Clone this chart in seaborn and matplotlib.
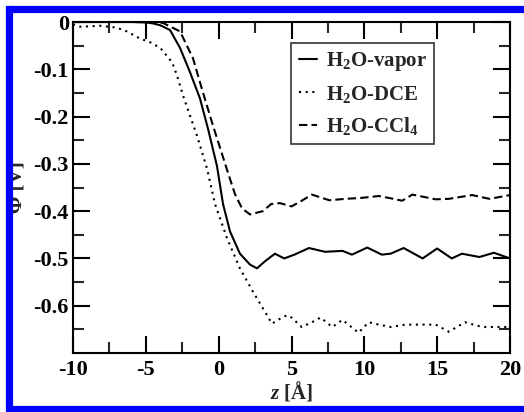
import matplotlib
matplotlib.use("Agg")
import matplotlib.pyplot as plt
import seaborn as sns
import pandas as pd
from matplotlib.lines import Line2D

# ---- data ----
z_vapor = [-10, -8, -6, -5, -4.5, -4, -3.34, -2.65, -1.97, -1.28, -0.73, -0.12, 0.3, 0.78,
           1.46, 2.15, 2.63, 3.18, 3.86, 4.5, 5.2, 6.2, 7.3, 8.5, 9.15, 10.2, 11.2, 11.8,
           12.7, 14.0, 15.0, 16.0, 16.7, 17.9, 18.9, 20]
phi_vapor = [0, 0, 0, -0.001, -0.003, -0.007, -0.017, -0.055, -0.106, -0.162, -0.226, -0.304,
             -0.385, -0.443, -0.49, -0.513, -0.521, -0.506, -0.49, -0.50, -0.492, -0.478,
             -0.486, -0.484, -0.492, -0.477, -0.492, -0.49, -0.478, -0.50, -0.479, -0.50,
             -0.49, -0.497, -0.488, -0.50]

z_dce = [-10, -9.5, -8.1, -7, -6.3, -5.4, -4.7, -4.0, -3.2, -2.86, -2.45, -1.97, -1.49, -0.8,
         -0.25, 0.57, 1.46, 2.35, 3.18, 3.66, 4.07, 4.7, 5.0, 5.7, 6.4, 7.0, 7.8, 8.5, 9.6,
         10.3, 11.0, 11.8, 12.8, 14.0, 14.9, 15.8, 16.9, 18.1, 19.2, 20]
phi_dce = [-0.005, -0.01, -0.008, -0.012, -0.02, -0.035, -0.043, -0.055, -0.085, -0.113,
           -0.155, -0.198, -0.24, -0.31, -0.385, -0.457, -0.521, -0.57, -0.613, -0.638,
           -0.63, -0.62, -0.625, -0.645, -0.635, -0.625, -0.645, -0.63, -0.657, -0.635,
           -0.64, -0.645, -0.64, -0.64, -0.64, -0.655, -0.635, -0.645, -0.645, -0.645]

z_ccl4 = [-10, -8, -6, -4.5, -3.82, -2.65, -1.76, -1.08, -0.39, 0.64, 1.12, 1.6, 2.15, 3.04,
          3.6, 4.2, 5.0, 5.7, 6.4, 7.6, 8.7, 9.8, 11.0, 12.0, 12.6, 13.3, 14.9, 15.8, 17.4,
          18.6, 20]
phi_ccl4 = [0, 0, 0, 0, -0.002, -0.02, -0.077, -0.149, -0.219, -0.319, -0.364, -0.394,
            -0.407, -0.40, -0.385, -0.383, -0.39, -0.378, -0.365, -0.377, -0.374, -0.372,
            -0.368, -0.374, -0.378, -0.365, -0.375, -0.374, -0.366, -0.374, -0.366]

labels = [r"H$_2$O-vapor", r"H$_2$O-DCE", r"H$_2$O-CCl$_4$"]
x_ticks = [-10, -5, 0, 5, 10, 15, 20]
y_ticks = [0, -0.1, -0.2, -0.3, -0.4, -0.5, -0.6]
y_ticklabels = ["0", "-0.1", "-0.2", "-0.3", "-0.4", "-0.5", "-0.6"]

df = pd.concat([
    pd.DataFrame({"z": z_vapor, "phi": phi_vapor, "series": labels[0]}),
    pd.DataFrame({"z": z_dce, "phi": phi_dce, "series": labels[1]}),
    pd.DataFrame({"z": z_ccl4, "phi": phi_ccl4, "series": labels[2]}),
])

# ---- style ----
sns.set_theme(style="white")
plt.rcParams["font.family"] = ["Liberation Serif", "DejaVu Serif"]
plt.rcParams["font.weight"] = "bold"
plt.rcParams["axes.unicode_minus"] = False
plt.rcParams["mathtext.fontset"] = "custom"
plt.rcParams["mathtext.rm"] = "Liberation Serif:bold"
plt.rcParams["mathtext.bf"] = "Liberation Serif:bold"
plt.rcParams["mathtext.it"] = "Liberation Serif:italic:bold"
plt.rcParams["mathtext.default"] = "rm"

fig = plt.figure(figsize=(5.24, 4.12), dpi=100)
ax = fig.add_axes([73/524, 1-353/412, (510-73)/524, (353-22)/412])

styles = {labels[0]: "-", labels[1]: (0, (1, 2.2)), labels[2]: (0, (4, 2))}
for lab in labels:
    sub = df[df["series"] == lab]
    sns.lineplot(data=sub, x="z", y="phi", ax=ax, color="black", lw=1.5,
                 linestyle=styles[lab], label=lab, estimator=None, sort=True)

ax.set_xlim(-10, 20)
ax.set_ylim(-0.7, 0)
ax.set_xticks(x_ticks)
ax.set_xticklabels([str(t) for t in x_ticks], fontsize=16, fontweight="bold")
ax.set_yticks(y_ticks)
ax.set_yticklabels(y_ticklabels, fontsize=16, fontweight="bold")
ax.set_xticks([-7.5, -2.5, 2.5, 7.5, 12.5, 17.5], minor=True)
ax.set_yticks([-0.05, -0.15, -0.25, -0.35, -0.45, -0.55, -0.65], minor=True)
ax.tick_params(which="major", direction="in", length=12, width=1.5,
               top=True, right=True, bottom=True, left=True, pad=5, colors="black")
ax.tick_params(which="minor", direction="in", length=8, width=1.5,
               top=True, right=True, bottom=True, left=True)
ax.tick_params(axis="y", pad=3)
for s in ax.spines.values():
    s.set_linewidth(1.5)
    s.set_color("black")

ax.set_xlabel(r"$\mathit{z}$ [Å]", fontsize=15, fontweight="bold", labelpad=0)
ax.set_ylabel("Φ [V]", fontsize=15, fontweight="bold", labelpad=5)

leg = ax.legend(loc="upper right", bbox_to_anchor=(434/524, 1-43/412),
                bbox_transform=fig.transFigure, prop={"weight": "bold", "size": 15},
                frameon=True, fancybox=False, handlelength=0.9, handletextpad=0.4,
                labelspacing=0.5, borderpad=0.35, borderaxespad=0)
leg.get_frame().set_edgecolor("black")
leg.get_frame().set_linewidth(1.2)

# blue border (left, top, bottom)
blue = (0, 0, 1)
lw = 5.2
fig.add_artist(Line2D([8.5/524, 8.5/524], [3/412, 1-8.5/412], transform=fig.transFigure,
                      color=blue, lw=lw, solid_capstyle="projecting"))
fig.add_artist(Line2D([8.5/524, 1.0], [1-8.5/412, 1-8.5/412], transform=fig.transFigure,
                      color=blue, lw=lw))
fig.add_artist(Line2D([8.5/524, 1.0], [3/412, 3/412], transform=fig.transFigure,
                      color=blue, lw=lw))

fig.savefig("out.png", dpi=100)
